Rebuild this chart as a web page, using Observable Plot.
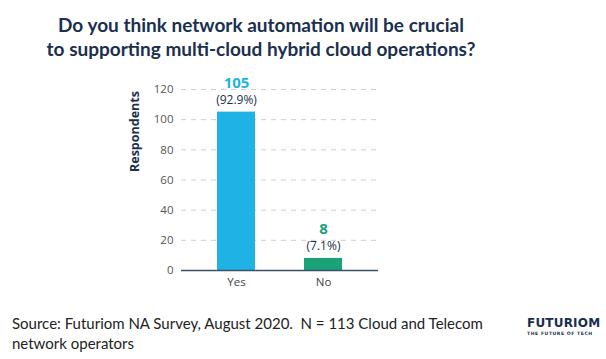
<!DOCTYPE html>
<html>
<head>
<meta charset="utf-8">
<script src="https://cdn.jsdelivr.net/npm/d3@7"></script>
<script src="https://cdn.jsdelivr.net/npm/@observablehq/plot@0.6"></script>
<style>
  html, body { margin: 0; padding: 0; background: #fff; }
  #wrap { position: relative; width: 606px; height: 359px; overflow: hidden; }
  #title { position: absolute; left: 0; top: 13px; width: 522px; text-align: center;
    font-family: Lato, sans-serif; font-weight: 700; font-size: 19px; line-height: 24px; color: #1b2f4e; }
  #chart { position: absolute; left: 0; top: 70px; }
  #caption { position: absolute; left: 12px; top: 313px; white-space: nowrap;
    font-family: Lato, sans-serif; font-size: 15px; line-height: 20px; color: #222; }
  #logo { position: absolute; left: 527px; top: 317px; color: #1b2f4e; font-family: "DejaVu Sans", sans-serif; white-space: nowrap; }
  #logo .big { font-weight: 700; font-size: 12px; letter-spacing: 0.2px; line-height: 13px; }
  #logo .small { font-size: 4.6px; letter-spacing: 0.55px; line-height: 7px; font-weight: 700; }
</style>
</head>
<body>
<div id="wrap">
  <div id="title">Do you think network automation will be crucial<br>to supporting multi-cloud hybrid cloud operations?</div>
  <div id="chart"></div>
  <div id="caption">Source: Futuriom NA Survey, August 2020.&nbsp; N = 113 Cloud and Telecom<br>network operators</div>
  <div id="logo"><div class="big">FUTURIOM</div><div class="small">THE FUTURE OF TECH</div></div>
</div>
<script>
const categories = ["Yes", "No"];
const counts = [105, 8];
const percents = ["(92.9%)", "(7.1%)"];
const colors = ["#1fb3e5", "#1aa378"];
const yTicks = [0, 20, 40, 60, 80, 100, 120];
const yLabel = ["Respondents"];

const data = categories.map((c, i) => ({cat: c, value: counts[i], pct: percents[i], color: colors[i]}));
const navy = "#1b2f4e";

const chart = Plot.plot({
  width: 606,
  height: 230,
  marginLeft: 181,
  marginRight: 228,
  marginTop: 19,
  marginBottom: 30,
  style: {fontFamily: "'Open Sans', sans-serif", background: "transparent"},
  x: {domain: categories, paddingInner: 0.56, paddingOuter: 0.4, label: null},
  y: {domain: [0, 120], label: null},
  marks: [
    Plot.gridY(yTicks, {stroke: "#cfcfcf", strokeOpacity: 1, strokeDasharray: "5,5"}),
    Plot.barY(data, {x: "cat", y: "value", fill: d => d.color}),
    Plot.ruleY([0], {stroke: "#3b4f66", strokeWidth: 1.5}),
    Plot.axisY(yTicks, {tickSize: 0, tickPadding: 8, fontSize: 11.5, fill: "#555", label: null}),
    Plot.axisX({tickSize: 0, tickPadding: 7, fontSize: 11.5, fill: "#444", label: null}),
    Plot.text(yLabel, {frameAnchor: "left", rotate: -90, dx: -47, dy: -8, fontWeight: "bold", fontSize: 12.5, fill: navy}),
    Plot.text(data, {x: "cat", y: "value", text: d => String(d.value), dy: -29, fill: d => d.color, fontWeight: "bold", fontSize: 15}),
    Plot.text(data, {x: "cat", y: "value", text: "pct", dy: -12, fill: navy, fontSize: 12})
  ]
});
document.getElementById("chart").appendChild(chart);
</script>
</body>
</html>
